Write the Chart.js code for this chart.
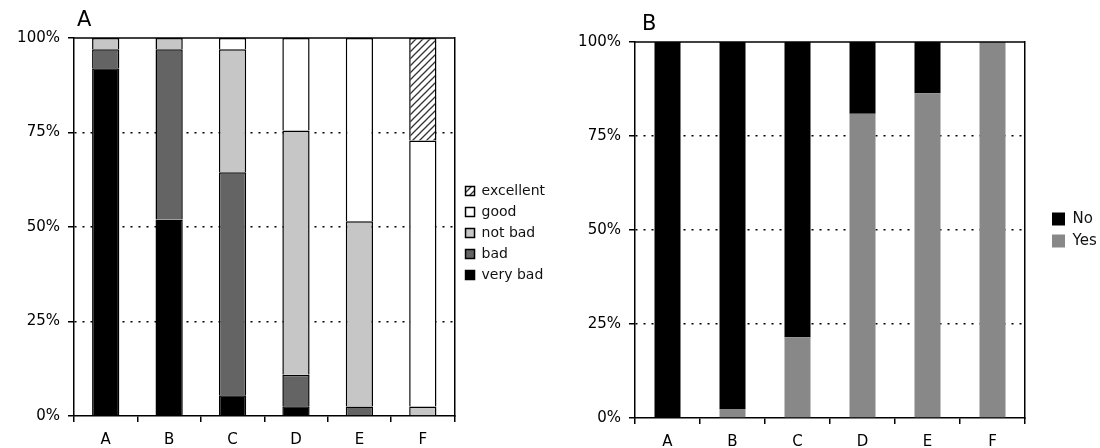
<!DOCTYPE html>
<html>
<head>
<meta charset="utf-8">
<script src="https://cdn.jsdelivr.net/npm/chart.js@4.4.1/dist/chart.umd.min.js"></script>
<style>
  html, body { margin: 0; padding: 0; background: #fff; }
  #wrap { position: relative; width: 1100px; height: 448px; }
  canvas { position: absolute; top: 0; }
  #chartA { left: 0; }
  #chartB { left: 555px; }
</style>
</head>
<body>
<div id="wrap">
  <canvas id="chartA" width="555" height="448"></canvas>
  <canvas id="chartB" width="545" height="448"></canvas>
</div>
<script>
// ── data ──────────────────────────────────────────────
const CATEGORIES = ['A', 'B', 'C', 'D', 'E', 'F'];
const PCT_TICKS  = [0, 25, 50, 75, 100];

// panel A: rating shares, %
const VERY_BAD  = [92, 52, 5.5, 2.6, 0, 0];
const BAD       = [5, 45, 59, 8.3, 2.5, 0];
const NOT_BAD   = [3, 3, 32.5, 64.6, 49, 2.5];
const GOOD      = [0, 0, 3, 24.5, 48.5, 70.4];
const EXCELLENT = [0, 0, 0, 0, 0, 27.1];

// panel B: yes / no shares, %
const YES = [0, 2.4, 21.5, 80.9, 86.4, 100];
const NO  = [100, 97.6, 78.5, 19.1, 13.6, 0];

Chart.defaults.font.family = '"DejaVu Sans", Verdana, sans-serif';
Chart.defaults.font.size = 15;
Chart.defaults.color = '#000';

function hatch() {
  const c = document.createElement('canvas');
  c.width = 7; c.height = 7;
  const g = c.getContext('2d');
  g.fillStyle = '#fff';
  g.fillRect(0, 0, 7, 7);
  g.strokeStyle = '#333';
  g.lineWidth = 1.3;
  g.beginPath();
  g.moveTo(-1, 8); g.lineTo(8, -1);
  g.moveTo(-4, 4); g.lineTo(4, -4);
  g.moveTo(3, 11); g.lineTo(11, 3);
  g.stroke();
  return g.createPattern(c, 'repeat');
}

// top frame line + panel letter
const panelPlugin = {
  id: 'panel',
  afterDatasetsDraw(chart, args, opts) {
    const { ctx, chartArea: a } = chart;
    ctx.save();
    ctx.strokeStyle = '#000';
    ctx.lineWidth = 1.5;
    ctx.beginPath();
    ctx.moveTo(a.left, a.top);
    ctx.lineTo(a.right, a.top);
    ctx.stroke();
    ctx.fillStyle = '#000';
    ctx.font = '21px "DejaVu Sans"';
    ctx.textBaseline = 'middle';
    ctx.fillText(opts.letter, a.left + opts.dx, opts.y);
    ctx.restore();
  },
};

function buildOptions(p) {
  return {
    responsive: false,
    animation: false,
    layout: { padding: { top: p.top, left: 0, right: 0, bottom: 0 } },
    plugins: {
      tooltip: { enabled: false },
      panel: { letter: p.letter, dx: p.dx, y: p.letterY },
      legend: {
        position: 'right',
        fullSize: false,
        reverse: true,
        maxWidth: p.legendMax,
        // empty title only nudges the items down
        title: { display: p.legendShift > 0, text: ' ', padding: 0, font: { size: p.legendShift / 1.2 } },
        labels: {
          boxWidth: p.box,
          boxHeight: p.box,
          padding: 7,
          font: { size: p.legendFont },
          color: '#111',
        },
      },
    },
    scales: {
      x: {
        stacked: true,
        grid: { drawOnChartArea: false, color: '#000', lineWidth: 1.5, tickLength: 6 },
        border: { color: '#000', width: 1.5 },
        ticks: { padding: 9, color: '#000' },
        afterFit: s => { s.height = p.xHeight; },
      },
      y: {
        stacked: true,
        min: 0,
        max: 100,
        afterBuildTicks: s => { s.ticks = PCT_TICKS.map(v => ({ value: v })); },
        ticks: { padding: 8, color: '#000', callback: v => `${v}%` },
        grid: {
          color: ctx => (ctx.tick.value === 0 || ctx.tick.value === 100) ? 'rgba(0,0,0,0)' : '#000',
          lineWidth: 1.5,
          tickColor: '#000',
          tickWidth: 1.5,
          tickLength: 6,
        },
        border: { color: '#000', width: 1.5, dash: [2, 6] },
        afterFit: s => { s.width = p.yWidth; },
      },
      yRight: {
        position: 'right',
        min: 0,
        max: 100,
        ticks: { display: false },
        grid: { display: false },
        border: { color: '#000', width: 1.5 },
        afterFit: s => { s.width = p.gap; },
      },
    },
  };
}

// ── panel A ──
const pat = hatch();
const segA = (label, data, bg) => ({
  label, data,
  backgroundColor: bg,
  borderColor: '#000',
  borderWidth: 1.5,
  barPercentage: 0.43,
  categoryPercentage: 1,
});

new Chart(document.getElementById('chartA'), {
  type: 'bar',
  data: {
    labels: CATEGORIES,
    datasets: [
      segA('very bad', VERY_BAD, '#000000'),
      segA('bad', BAD, '#646464'),
      segA('not bad', NOT_BAD, '#c6c6c6'),
      segA('good', GOOD, '#ffffff'),
      segA('excellent', EXCELLENT, pat),
    ],
  },
  options: buildOptions({
    letter: 'A', dx: 3, letterY: 21, top: 38,
    xHeight: 32, yWidth: 74, gap: 4, legendMax: 97,
    box: 9, legendFont: 14, legendShift: 12,
  }),
  plugins: [panelPlugin],
});

// ── panel B ──
const segB = (label, data, bg) => ({
  label, data,
  backgroundColor: bg,
  borderWidth: 0,
  barPercentage: 0.4,
  categoryPercentage: 1,
});

new Chart(document.getElementById('chartB'), {
  type: 'bar',
  data: {
    labels: CATEGORIES,
    datasets: [
      segB('Yes', YES, '#888888'),
      segB('No', NO, '#000000'),
    ],
  },
  options: buildOptions({
    letter: 'B', dx: 7, letterY: 25, top: 42,
    xHeight: 30, yWidth: 80, gap: 20, legendMax: 55,
    box: 13, legendFont: 15, legendShift: 0,
  }),
  plugins: [panelPlugin],
});
</script>
</body>
</html>
